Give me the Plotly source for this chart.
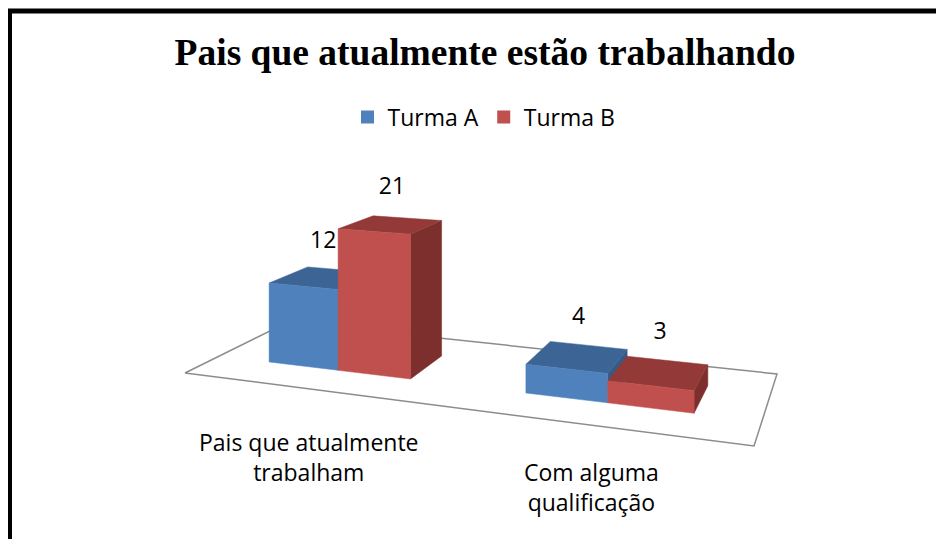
import numpy as np
import plotly.graph_objects as go

# ---------------- data ----------------
categories = ["Pais que atualmente<br>trabalham", "Com alguma<br>qualificação"]
series_names = ["Turma A", "Turma B"]
turma_a = [12, 4]
turma_b = [21, 3]
title_text = "Pais que atualmente estão trabalhando"

# ---------------- styling / layout ----------------
PAGE_OFF = 8           # browser body margin
W_PX, H_PX = 944, 539  # window size
FIG_W, FIG_H = W_PX - PAGE_OFF, H_PX - PAGE_OFF
front_colors = ["#4F81BD", "#C0504D"]
top_colors = ["#3C6494", "#933A38"]
side_colors = ["#365A86", "#7D2F2D"]
floor_color = "#8C8C8C"


def px_to_paper_x(px):
    return (px - PAGE_OFF) / FIG_W


def px_to_paper_y(py):
    return 1 - (py - PAGE_OFF) / FIG_H


# floor quad in pixels: (u,v) = (0,0),(1,0),(1,1),(0,1)
floor_px = [(185, 373), (754, 446), (777, 374), (288, 322)]
unit_src = [(0, 0), (1, 0), (1, 1), (0, 1)]
A = []
B = []
for (u, v), (X, Y) in zip(unit_src, floor_px):
    A.append([u, v, 1, 0, 0, 0, -u * X, -v * X]); B.append(X)
    A.append([0, 0, 0, u, v, 1, -u * Y, -v * Y]); B.append(Y)
a, b, c, d, e, f, g, hh = np.linalg.solve(np.array(A, float), np.array(B, float))
K = 6.8  # px per value unit at unit depth scale


def project(u, v, h):
    w = g * u + hh * v + 1.0
    return (a * u + b * v + c) / w, (d * u + e * v + f - K * h) / w


n_cat = len(categories)
gap_width = 1.5
bar_w = (1.0 / n_cat) / (len(series_names) + gap_width)
v0, v1 = 0.3, 0.7

fig = go.Figure()


def add_poly(pts, color):
    xs = [p[0] for p in pts] + [pts[0][0]]
    ys = [p[1] for p in pts] + [pts[0][1]]
    fig.add_trace(go.Scatter(x=xs, y=ys, mode="lines", fill="toself",
                             fillcolor=color, line=dict(color=color, width=0.5),
                             hoverinfo="skip", showlegend=False))


# floor
fl = [project(u, v, 0) for u, v in unit_src] + [project(0, 0, 0)]
fig.add_trace(go.Scatter(x=[p[0] for p in fl], y=[p[1] for p in fl], mode="lines",
                         line=dict(color=floor_color, width=1.5),
                         hoverinfo="skip", showlegend=False))

series_vals = [turma_a, turma_b]
for ci in range(n_cat):
    uc = (ci + 0.5) / n_cat
    for si, vals in enumerate(series_vals):
        h = vals[ci]
        u0 = uc - bar_w * len(series_names) / 2 + si * bar_w
        u1 = u0 + bar_w
        right = [project(u1, v0, 0), project(u1, v1, 0), project(u1, v1, h), project(u1, v0, h)]
        top = [project(u0, v0, h), project(u1, v0, h), project(u1, v1, h), project(u0, v1, h)]
        front = [project(u0, v0, 0), project(u1, v0, 0), project(u1, v0, h), project(u0, v0, h)]
        add_poly(right, side_colors[si])
        add_poly(top, top_colors[si])
        add_poly(front, front_colors[si])

# data labels
for si, vals in enumerate(series_vals):
    xs, ys = [], []
    for ci in range(n_cat):
        uc = (ci + 0.5) / n_cat
        um = uc - bar_w * len(series_names) / 2 + (si + 0.5) * bar_w
        X, Y = project(um, 0.5, vals[ci] + 5.5)
        xs.append(X + 1); ys.append(Y)
    fig.add_trace(go.Scatter(x=xs, y=ys, mode="text", text=[str(v) for v in vals],
                             textposition="middle center",
                             textfont=dict(family="Open Sans", size=23, color="#000000"),
                             hoverinfo="skip", showlegend=False))

# legend entries
for si, name in enumerate(series_names):
    fig.add_trace(go.Scatter(x=[None], y=[None], mode="markers", name=name,
                             marker=dict(symbol="square", size=13, color=front_colors[si])))

# category labels
annotations = []
for ci, cat in enumerate(categories):
    X, Y = project((ci + 0.5) / n_cat, 0, 0)
    offset = 37 - 0.17 * (Y - 389)
    annotations.append(dict(x=X, y=Y, xref="x", yref="y", text=cat, showarrow=False,
                            yanchor="top", xanchor="center", yshift=-offset + 2,
                            font=dict(family="Open Sans", size=23, color="#000000")))

fig.update_layout(
    width=FIG_W, height=FIG_H,
    margin=dict(l=0, r=0, t=0, b=0),
    paper_bgcolor="white", plot_bgcolor="white",
    xaxis=dict(range=[PAGE_OFF, W_PX], visible=False, fixedrange=True),
    yaxis=dict(range=[H_PX, PAGE_OFF], visible=False, fixedrange=True),
    title=dict(text="<b>" + title_text + "</b>", x=px_to_paper_x(485), y=px_to_paper_y(52),
               xanchor="center", yanchor="middle",
               font=dict(family="Liberation Serif, Times New Roman, serif", size=37.5, color="#000000")),
    legend=dict(orientation="h", x=px_to_paper_x(484), y=px_to_paper_y(117),
                xanchor="center", yanchor="middle",
                font=dict(family="Open Sans", size=23, color="#000000"), bgcolor="rgba(0,0,0,0)"),
    annotations=annotations,
    shapes=[dict(type="rect", xref="x", yref="y", x0=9.5, y0=11, x1=1000, y1=700,
                 line=dict(color="#000000", width=5), layer="above")],
    showlegend=True,
)

fig.write_html("out.html")
